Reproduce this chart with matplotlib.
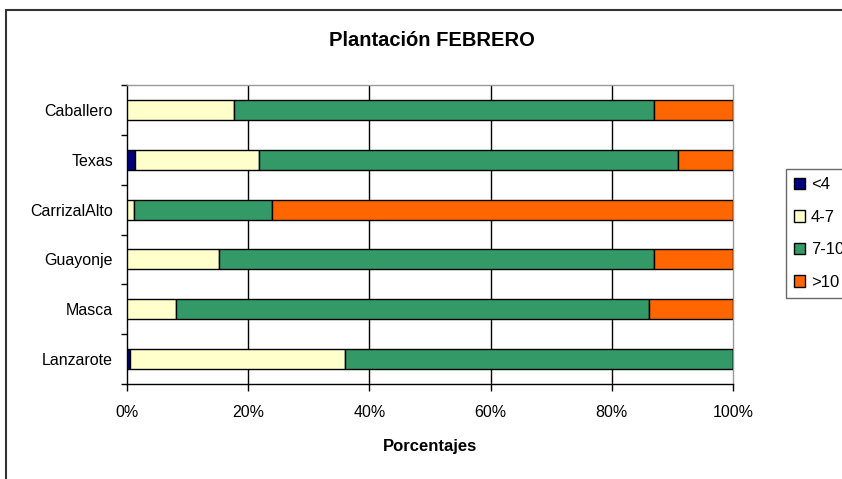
import matplotlib.pyplot as plt
from matplotlib.patches import Rectangle
from matplotlib.ticker import FixedLocator
import numpy as np

plt.rcParams['font.family'] = ['Liberation Sans', 'DejaVu Sans']

categories = ['Caballero', 'Texas', 'CarrizalAlto', 'Guayonje', 'Masca', 'Lanzarote']
series_names = ['<4', '4-7', '7-10', '>10']
colors = ['#000080', '#FFFFCC', '#339966', '#FF6600']

# percentages per category (top to bottom)
lt4 = [0.0, 1.3, 0.0, 0.0, 0.0, 0.5]
s4_7 = [17.6, 20.4, 1.2, 15.2, 8.1, 35.4]
s7_10 = [69.4, 69.2, 22.7, 71.8, 78.1, 64.1]
gt10 = [13.0, 9.1, 76.1, 13.0, 13.8, 0.0]
series = [lt4, s4_7, s7_10, gt10]

W, H = 842, 479
fig = plt.figure(figsize=(W / 100, H / 100), dpi=100)
ax = fig.add_axes([127 / W, 1 - 384 / H, (733 - 127) / W, (384 - 85) / H])

y = np.arange(len(categories))[::-1]
left = np.zeros(len(categories))
for name, vals, col in zip(series_names, series, colors):
    vals = np.array(vals)
    ax.barh(y, vals, left=left, height=0.4, color=col, edgecolor='black',
            linewidth=1.0, label=name, zorder=3)
    left += vals

ax.set_xlim(0, 100)
ax.set_ylim(-0.5, len(categories) - 0.5)
ax.set_xticks([0, 20, 40, 60, 80, 100])
ax.set_xticklabels(['0%', '20%', '40%', '60%', '80%', '100%'])
ax.set_yticks(y)
ax.set_yticklabels(categories)
ax.yaxis.set_minor_locator(FixedLocator(np.arange(-0.5, len(categories), 1)))

ax.tick_params(axis='y', which='major', length=0, pad=10, labelsize=11.5)
ax.tick_params(axis='y', which='minor', length=4, width=1, color='black')
ax.tick_params(axis='x', length=5, width=1, pad=10, labelsize=11.5)

for xv in [20, 40, 60, 80]:
    ax.axvline(xv, color='black', linewidth=1, zorder=1)

ax.spines['left'].set_color('black')
ax.spines['bottom'].set_color('black')
ax.spines['top'].set_color('#999999')
ax.spines['right'].set_color('#999999')
for s in ax.spines.values():
    s.set_linewidth(1)

ax.set_xlabel('Porcentajes', fontsize=12, fontweight='bold', labelpad=14)
fig.text(0.5 * (127 + 733) / W + 0.002, 1 - 40 / H, 'Plantación FEBRERO',
         ha='center', va='center', fontsize=14.5, fontweight='bold')

leg = ax.legend(loc='upper left', bbox_to_anchor=(786 / W, 1 - 169 / H),
                bbox_transform=fig.transFigure, fontsize=12, frameon=True,
                fancybox=False, edgecolor='#444444', handlelength=0.65,
                handleheight=0.65, handletextpad=0.35, labelspacing=1.05,
                borderpad=0.5, borderaxespad=0)
leg.get_frame().set_linewidth(1)

# outer chart border (only left and top visible in the crop)
fig.patches.append(Rectangle((6 / W, -0.1), 1.2, 1 - 10 / H + 0.1,
                             transform=fig.transFigure, fill=False,
                             edgecolor='#333333', linewidth=1.5))

fig.savefig('out.png', dpi=100)
